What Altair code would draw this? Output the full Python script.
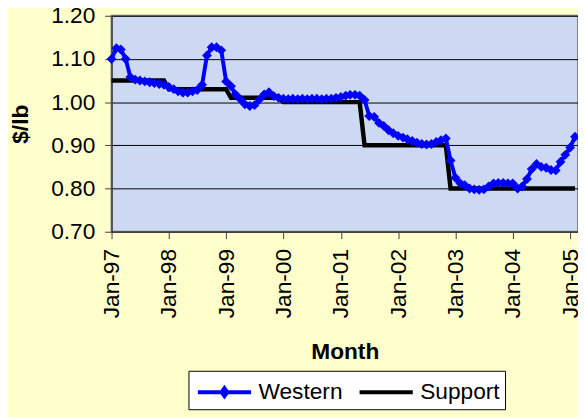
import altair as alt
import pandas as pd

# Monthly observations Jan-1997 .. Feb-2005
months = pd.date_range("1997-01-01", periods=98, freq="MS").strftime("%Y-%m-%d").tolist()

western = [
    1.100, 1.125, 1.122, 1.100, 1.058, 1.052, 1.050, 1.048, 1.046, 1.044, 1.042, 1.040,  # 1997
    1.035, 1.030, 1.025, 1.022, 1.022, 1.025, 1.028, 1.040, 1.108, 1.127, 1.127, 1.120,  # 1998
    1.048, 1.037, 1.018, 1.007, 0.995, 0.991, 0.993, 1.006, 1.018, 1.023, 1.014, 1.010,  # 1999
    1.008, 1.007, 1.008, 1.007, 1.008, 1.007, 1.008, 1.008, 1.007, 1.008, 1.008, 1.010,  # 2000
    1.012, 1.015, 1.017, 1.017, 1.015, 1.005, 0.968, 0.966, 0.952, 0.945, 0.935, 0.928,  # 2001
    0.922, 0.918, 0.914, 0.910, 0.906, 0.903, 0.902, 0.903, 0.908, 0.912, 0.916, 0.865,  # 2002
    0.825, 0.812, 0.808, 0.800, 0.798, 0.797, 0.798, 0.805, 0.812, 0.813, 0.813, 0.812,  # 2003
    0.812, 0.800, 0.805, 0.822, 0.845, 0.857, 0.850, 0.848, 0.843, 0.842, 0.862, 0.878,  # 2004
    0.895, 0.920,                                                                        # 2005
]

support = [
    1.05, 1.05, 1.05, 1.05, 1.05, 1.05, 1.05, 1.05, 1.05, 1.05, 1.05, 1.05,  # 1997
    1.03, 1.03, 1.03, 1.03, 1.03, 1.03, 1.03, 1.03, 1.03, 1.03, 1.03, 1.03,  # 1998
    1.03, 1.01, 1.01, 1.01, 1.01, 1.01, 1.01, 1.01, 1.01, 1.01, 1.01, 1.01,  # 1999
    1.00, 1.00, 1.00, 1.00, 1.00, 1.00, 1.00, 1.00, 1.00, 1.00, 1.00, 1.00,  # 2000
    1.00, 1.00, 1.00, 1.00, 1.00, 0.90, 0.90, 0.90, 0.90, 0.90, 0.90, 0.90,  # 2001
    0.90, 0.90, 0.90, 0.90, 0.90, 0.90, 0.90, 0.90, 0.90, 0.90, 0.90, 0.80,  # 2002
    0.80, 0.80, 0.80, 0.80, 0.80, 0.80, 0.80, 0.80, 0.80, 0.80, 0.80, 0.80,  # 2003
    0.80, 0.80, 0.80, 0.80, 0.80, 0.80, 0.80, 0.80, 0.80, 0.80, 0.80, 0.80,  # 2004
    0.80, 0.80,                                                              # 2005
]

series_names = ["Western", "Support"]
series_colors = ["#0000FF", "#000000"]
legend_shapes = ["M-1.86,0H1.86M-0.2,0L0,-0.28L0.2,0L0,0.28Z", "M-1.86,0H1.86"]
y_ticks = [0.70, 0.80, 0.90, 1.00, 1.10, 1.20]
x_tick_years = list(range(1997, 2006))

df = pd.DataFrame({
    "Month": months + months,
    "Price": western + support,
    "Series": ["Western"] * len(months) + ["Support"] * len(months),
})

FONT = "Liberation Sans"

x_enc = alt.X(
    "Month:T",
    scale=alt.Scale(
        type="utc",
        domain=[alt.DateTime(year=1997, month=1, date=1, utc=True),
                alt.DateTime(year=2005, month=2, date=20, utc=True)],
    ),
    axis=alt.Axis(
        values=[alt.DateTime(year=y, month=1, date=1, utc=True) for y in x_tick_years],
        format="%b-%y",
        labelAngle=270,
        labelPadding=10,
        tickSize=7,
        grid=False,
        title="Month",
        titleY=128.7,
        titleBaseline="alphabetic",
    ),
)

y_enc = alt.Y(
    "Price:Q",
    scale=alt.Scale(domain=[0.70, 1.20], nice=False, zero=False),
    axis=alt.Axis(
        values=y_ticks,
        format=".2f",
        grid=True,
        gridColor="#000000",
        gridWidth=1,
        tickSize=7,
        labelPadding=10,
        title="$/lb",
        titleAngle=270,
        titleX=-92,
        titleBaseline="middle",
    ),
)

base = alt.Chart(df)

support_line = base.transform_filter("datum.Series == 'Support'").mark_line(
    color="#000000", strokeWidth=4.5, strokeJoin="miter"
).encode(x=x_enc, y=y_enc)

western_line = base.transform_filter("datum.Series == 'Western'").mark_line(
    color="#0000FF", strokeWidth=4, strokeJoin="round"
).encode(x=x_enc, y=y_enc)

western_points = base.transform_filter("datum.Series == 'Western'").mark_point(
    shape="diamond", filled=True, color="#0000FF", size=100, opacity=1
).encode(x=x_enc, y=y_enc)

legend_kw = dict(
    orient="none",
    legendX=78,
    legendY=360,
    direction="horizontal",
    title=None,
)

legend_layer = base.transform_filter("datum.Price < 0").mark_point(
    filled=False, opacity=1
).encode(
    x=x_enc,
    y=y_enc,
    color=alt.Color("Series:N", scale=alt.Scale(domain=series_names, range=series_colors),
                    legend=alt.Legend(**legend_kw)),
    shape=alt.Shape("Series:N", scale=alt.Scale(domain=series_names, range=legend_shapes),
                    legend=alt.Legend(**legend_kw)),
)

chart = alt.layer(support_line, western_line, western_points, legend_layer).properties(
    width=473,
    height=219,
    autosize=alt.AutoSizeParams(type="none"),
    padding={"left": 105, "top": 5, "right": 0, "bottom": 185},
    background="#FFFFCC",
).configure_view(
    fill="#CDD8F3", stroke="#808080", strokeWidth=2
).configure_axis(
    labelFont=FONT, labelFontSize=23, labelColor="#000000",
    titleFont=FONT, titleFontSize=23, titleFontWeight="bold", titleColor="#000000",
    domainColor="#404040", domainWidth=1.5, tickColor="#404040", tickWidth=1,
).configure_legend(
    labelFont=FONT, labelFontSize=23, labelColor="#000000",
    fillColor="#FFFFFF", strokeColor="#000000", padding=5,
    symbolSize=841, symbolStrokeWidth=4, symbolOffset=15, labelOffset=18,
    columnPadding=8, symbolOpacity=1,
)

chart.save("out.html", embed_options={"renderer": "svg", "actions": False})
